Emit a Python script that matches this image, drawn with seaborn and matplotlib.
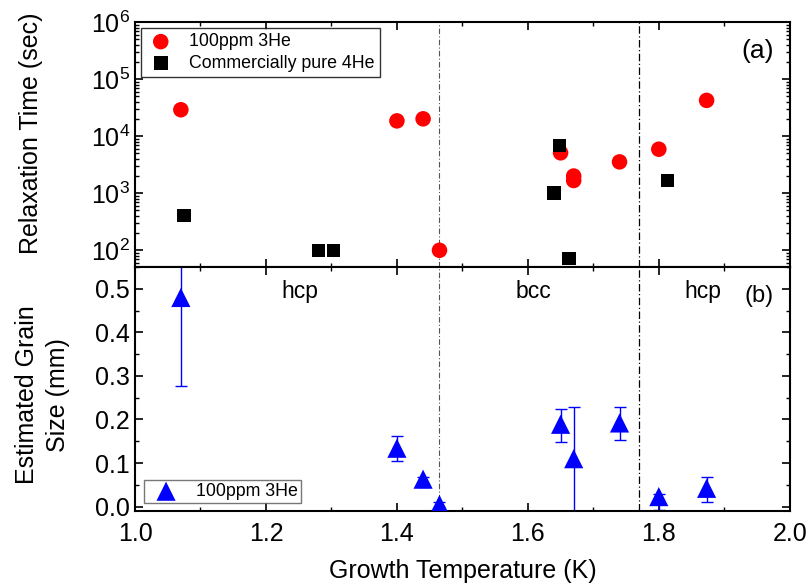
import numpy as np
import pandas as pd
import matplotlib
matplotlib.use("Agg")
import matplotlib.pyplot as plt
import seaborn as sns
from matplotlib.ticker import MultipleLocator, LogLocator, NullFormatter, FormatStrFormatter

# ---- data ----
he3_T = [1.070, 1.400, 1.440, 1.465, 1.650, 1.670, 1.670, 1.740, 1.800, 1.873]
he3_tau = [29000, 18500, 20100, 100, 5100, 2000, 1670, 3540, 5900, 42300]

he4_T = [1.075, 1.280, 1.303, 1.640, 1.648, 1.663, 1.813]
he4_tau = [405, 100, 100, 1000, 6860, 72, 1670]

grain_T = [1.070, 1.400, 1.440, 1.465, 1.650, 1.670, 1.740, 1.800, 1.873]
grain_size = [0.480, 0.134, 0.063, 0.005, 0.189, 0.110, 0.192, 0.023, 0.042]
grain_err_lo = [0.203, 0.029, 0.017, 0.005, 0.040, 0.130, 0.040, 0.030, 0.032]
grain_err_hi = [0.200, 0.029, 0.005, 0.005, 0.035, 0.118, 0.036, 0.005, 0.027]

phase_bounds = [1.464, 1.770]
phase_labels = ["hcp", "bcc", "hcp"]
phase_label_x = [1.252, 1.608, 1.867]

# ---- style ----
sns.set_style("ticks")
plt.rcParams['font.family'] = ['Liberation Sans', 'DejaVu Sans']
plt.rcParams['mathtext.fontset'] = 'custom'
plt.rcParams['mathtext.rm'] = 'Liberation Sans'
plt.rcParams['mathtext.it'] = 'Liberation Sans:italic'
for k in ['text.color', 'axes.labelcolor', 'xtick.color', 'ytick.color', 'axes.edgecolor']:
    plt.rcParams[k] = 'black'

fig = plt.figure(figsize=(8.1, 5.86), dpi=100)
ax1 = fig.add_axes([0.1667, 0.5444, 0.8083, 0.4181])
ax2 = fig.add_axes([0.1667, 0.1280, 0.8083, 0.4164], sharex=ax1)

df3 = pd.DataFrame({"T": he3_T, "tau": he3_tau})
df4 = pd.DataFrame({"T": he4_T, "tau": he4_tau})
dfg = pd.DataFrame({"T": grain_T, "size": grain_size})

sns.scatterplot(data=df3, x="T", y="tau", ax=ax1, color="#ff0000", marker="o",
                s=125, edgecolor="none", label="100ppm 3He", zorder=3)
sns.scatterplot(data=df4, x="T", y="tau", ax=ax1, color="black", marker="s",
                s=95, edgecolor="none", label="Commercially pure 4He", zorder=3)
ax1.set_yscale("log")
ax1.set_ylim(51, 1.0e6)

ax2.errorbar(grain_T, grain_size, yerr=[grain_err_lo, grain_err_hi], fmt="none",
             ecolor="#0000ff", elinewidth=1.0, capsize=4, capthick=1.0, zorder=2)
sns.scatterplot(data=dfg, x="T", y="size", ax=ax2, color="#0000ff", marker="^",
                s=190, edgecolor="none", label="100ppm 3He", zorder=3)
ax2.set_ylim(-0.01, 0.55)
ax2.set_xlim(1.0, 2.0)

for ax in (ax1, ax2):
    ax.axvline(phase_bounds[0], color="#555555", ls=(0, (5, 2, 1, 2)), lw=0.8, zorder=1)
    ax.axvline(phase_bounds[1], color="black", ls=(0, (6, 2, 1, 2)), lw=0.9, zorder=1)
    for sp in ax.spines.values():
        sp.set_visible(True)
        sp.set_linewidth(1.5)
        sp.set_color("black")
    ax.tick_params(which="both", direction="in", top=True, right=True,
                   labelsize=18, color="black", labelcolor="black")
    ax.tick_params(which="major", length=6, width=1.2)
    ax.tick_params(which="minor", length=3, width=1.0)
    ax.tick_params(axis="x", which="major", pad=8)
    ax.xaxis.set_major_locator(MultipleLocator(0.2))
    ax.xaxis.set_minor_locator(MultipleLocator(0.1))

ax1.yaxis.set_major_locator(LogLocator(base=10, numticks=10))
ax1.yaxis.set_minor_locator(LogLocator(base=10, subs=np.arange(2, 10), numticks=10))
ax1.yaxis.set_minor_formatter(NullFormatter())
ax1.tick_params(axis="x", labelbottom=False)
ax1.set_xlabel("")
ax1.set_ylabel("Relaxation Time (sec)", fontsize=18)
ax1.yaxis.set_label_coords(-0.140, 0.547)

ax2.yaxis.set_major_locator(MultipleLocator(0.1))
ax2.yaxis.set_minor_locator(MultipleLocator(0.05))
ax2.yaxis.set_major_formatter(FormatStrFormatter("%.1f"))
ax2.xaxis.set_major_formatter(FormatStrFormatter("%.1f"))
ax2.set_xlabel("Growth Temperature (K)", fontsize=18, labelpad=9)
ax2.set_ylabel("Estimated Grain\nSize (mm)", fontsize=18, linespacing=1.4)
ax2.yaxis.set_label_coords(-0.099, 0.475)

ax1.text(0.975, 0.88, "(a)", transform=ax1.transAxes, ha="right", va="center", fontsize=19)
ax2.text(0.975, 0.88, "(b)", transform=ax2.transAxes, ha="right", va="center", fontsize=17)
for lx, lt in zip(phase_label_x, phase_labels):
    ax2.text(lx, 0.493, lt, ha="center", va="center", fontsize=16.5)

leg1 = ax1.legend(loc="upper left", bbox_to_anchor=(0.004, 0.99), fontsize=12.8,
                  frameon=True, fancybox=False, edgecolor="black", borderpad=0.3,
                  labelspacing=0.25, handletextpad=0.8, borderaxespad=0.2,
                  handlelength=1.6)
leg1.get_frame().set_linewidth(1.0)
leg2 = ax2.legend(loc="lower left", bbox_to_anchor=(0.008, 0.02), fontsize=12.8,
                  frameon=True, fancybox=False, edgecolor="#555555", borderpad=0.15,
                  handletextpad=0.6, borderaxespad=0.2, handlelength=2.2)
leg2.get_frame().set_linewidth(1.0)

fig.savefig("out.png", dpi=100)
